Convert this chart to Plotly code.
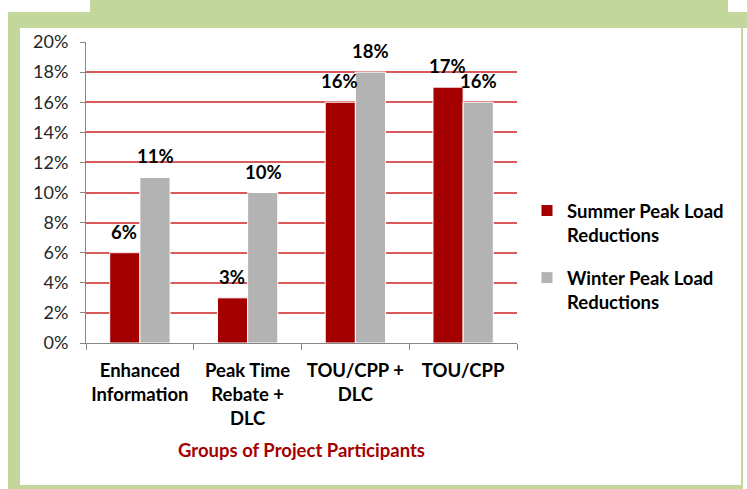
import plotly.graph_objects as go

categories = ["Enhanced<br>Information", "Peak Time<br>Rebate +<br>DLC", "TOU/CPP +<br>DLC", "TOU/CPP"]
summer = [0.06, 0.03, 0.16, 0.17]
winter = [0.11, 0.10, 0.18, 0.16]
series_names = ["Summer Peak Load<br>Reductions", "Winter Peak Load<br>Reductions"]
y_ticks = [0, 0.02, 0.04, 0.06, 0.08, 0.10, 0.12, 0.14, 0.16, 0.18, 0.20]
x_title = "Groups of Project Participants"

W, H = 747, 489
L, R, T, B = 86, 517, 42, 343  # plot area in px
FONT = "Lato"
GREEN = "#c3d69b"
RED = "#a50000"
GRAY = "#b3b3b3"
BS = 18.5  # bold text size

fig = go.Figure()
fig.add_trace(go.Bar(name=series_names[0], x=categories, y=summer, marker=dict(color=RED, line=dict(color="white", width=1)),
                     legendgroup="a"))
fig.add_trace(go.Bar(name=series_names[1], x=categories, y=winter, marker=dict(color=GRAY, line=dict(color="white", width=1)),
                     legendgroup="b"))

ann = []
for vals, shift in ((summer, -15.5), (winter, 15.5)):
    for c, v in zip(categories, vals):
        ann.append(dict(x=c, y=v, xref="x", yref="y", text=f"{round(v*100)}%", showarrow=False,
                        xshift=shift, yshift=8, yanchor="bottom",
                        font=dict(family=FONT, size=BS, color="black", weight="bold")))

def px_x(p):
    return (p - L) / (R - L)

def px_y(p):
    return (B - p) / (B - T)

shapes = []
for x0, y0, x1, y1 in [(90, 0, 728, 12), (8, 12, 747, 28), (8, 12, 20, 489), (8, 485, 743, 489), (741, 12, 743, 489)]:
    shapes.append(dict(type="rect", xref="paper", yref="paper", x0=px_x(x0), x1=px_x(x1), y0=px_y(y1), y1=px_y(y0),
                       fillcolor=GREEN, line=dict(width=0), layer="below"))

fig.update_layout(
    width=W, height=H,
    margin=dict(l=L, r=W - R, t=T, b=H - B, pad=0),
    paper_bgcolor="white", plot_bgcolor="white",
    barmode="group", bargap=0.44, bargroupgap=0.0,
    annotations=ann, shapes=shapes,
    font=dict(family=FONT, color="black"),
    legend=dict(x=px_x(527), y=px_y(192), xanchor="left", yanchor="top", valign="top",
                font=dict(family=FONT, size=BS, color="black", weight="bold"), tracegroupgap=16,
                bgcolor="rgba(0,0,0,0)"),
    xaxis=dict(showgrid=False, showline=True, linecolor="#868686", linewidth=1, ticks="outside", tickson="boundaries",
               ticklen=6, tickcolor="#868686", tickfont=dict(family=FONT, size=BS, color="black", weight="bold"),
               ticklabelstandoff=11,
               title=dict(text=x_title, font=dict(family=FONT, size=BS, color=RED, weight="bold"), standoff=15)),
    yaxis=dict(range=[0, 0.2], tickvals=y_ticks, tickformat=".0%", showgrid=True, gridcolor="#d85a5a", gridwidth=1.5,
               showline=True, linecolor="#868686", linewidth=1, ticks="outside", ticklen=5, tickcolor="#868686",
               tickfont=dict(family=FONT, size=18, color="#262626"), ticklabelstandoff=8, zeroline=False),
)
fig.write_html("out.html", config={"displayModeBar": False},
               post_script="document.body.style.margin='0';document.body.style.overflow='hidden';")
